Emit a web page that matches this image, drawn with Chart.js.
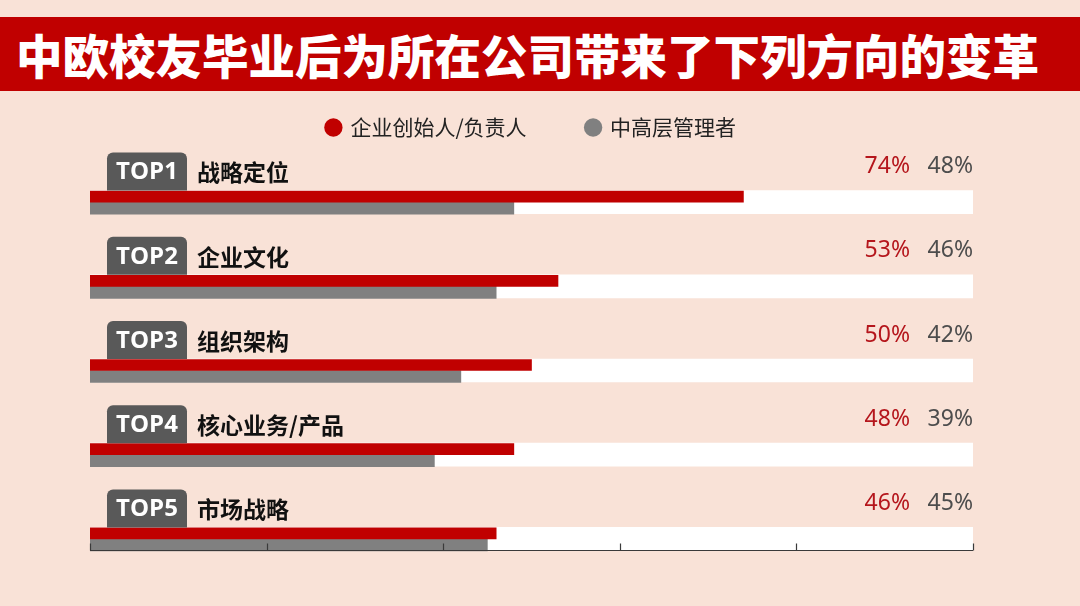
<!DOCTYPE html>
<html lang="zh">

<head>
    <meta charset="UTF-8">
    <meta name="viewport" content="width=device-width, initial-scale=1.0">
    <title>中欧校友毕业后为所在公司带来了下列方向的变革</title>
    <!-- Chart.js -->
    <script src="https://cdn.jsdelivr.net/npm/chart.js"></script>
    <style>
        html, body { margin: 0; padding: 0; }
        body {
            width: 1080px; height: 606px; position: relative; overflow: hidden;
            background: #f9e2d7;
            font-family: "Noto Sans CJK SC", sans-serif;
        }
        .title-bar {
            position: absolute; left: 0; top: 17px; width: 1080px; height: 74px;
            background: #c00000; z-index: 2;
        }
        .title-bar h1 {
            position: absolute; left: 16px; top: 0; margin: 0;
            line-height: 74px; font-size: 46.5px; font-weight: 900;
            color: #fff; white-space: nowrap;
        }
        .chart-box { position: absolute; left: 0; top: 0; width: 1080px; height: 606px; z-index: 1; }
    </style>
</head>

<body>
    <div class="title-bar"><h1>中欧校友毕业后为所在公司带来了下列方向的变革</h1></div>
    <div class="chart-box"><canvas id="changeChart"></canvas></div>

    <script>
        // data
        var ranks = ['TOP1', 'TOP2', 'TOP3', 'TOP4', 'TOP5'];
        var directions = ['战略定位', '企业文化', '组织架构', '核心业务/产品', '市场战略'];
        var founders = [74, 53, 50, 48, 46];   // 企业创始人/负责人
        var managers = [48, 46, 42, 39, 45];   // 中高层管理者
        var fullTrack = [100, 100, 100, 100, 100];
        var xTicks = [0, 20, 40, 60, 80, 100];

        var RED = '#c00000';
        var GRAY = '#808080';

        // TOP tags, names and percentages above each bar pair
        var rowLabels = {
            id: 'rowLabels',
            afterDatasetsDraw: function (chart) {
                var ctx = chart.ctx;
                var x = chart.scales.x;
                var x0 = x.getPixelForValue(0);
                var xEnd = x.getPixelForValue(100);
                var tracks = chart.getDatasetMeta(2).data;
                ctx.save();
                tracks.forEach(function (bar, i) {
                    var top = bar.y - bar.height / 2;

                    ctx.fillStyle = '#595959';
                    ctx.beginPath();
                    ctx.roundRect(x0 + 17, top - 38, 80, 38, [6, 6, 0, 0]);
                    ctx.fill();

                    ctx.textBaseline = 'middle';
                    ctx.textAlign = 'center';
                    ctx.fillStyle = '#ffffff';
                    ctx.font = 'bold 24px "Open Sans", sans-serif';
                    ctx.fillText(ranks[i], x0 + 57, top - 18);

                    ctx.textAlign = 'left';
                    ctx.fillStyle = '#111111';
                    ctx.font = 'bold 23px "Noto Sans CJK SC", sans-serif';
                    ctx.fillText(directions[i], x0 + 107, top - 18);

                    ctx.textAlign = 'right';
                    ctx.font = '23px "Noto Sans", sans-serif';
                    ctx.fillStyle = '#b5161c';
                    ctx.fillText(founders[i] + '%', xEnd - 63, top - 24);
                    ctx.fillStyle = '#4d4d4d';
                    ctx.fillText(managers[i] + '%', xEnd, top - 24);
                });
                ctx.restore();
            }
        };

        // bottom axis line with small ticks pointing up
        var axisTicks = {
            id: 'axisTicks',
            afterDatasetsDraw: function (chart) {
                var ctx = chart.ctx;
                var x = chart.scales.x;
                var tracks = chart.getDatasetMeta(2).data;
                var last = tracks[tracks.length - 1];
                var yLine = Math.round(last.y + last.height / 2) + 0.5;
                ctx.save();
                ctx.strokeStyle = '#3a3a3a';
                ctx.lineWidth = 1.2;
                ctx.beginPath();
                ctx.moveTo(x.getPixelForValue(0), yLine);
                ctx.lineTo(x.getPixelForValue(100), yLine);
                xTicks.forEach(function (t) {
                    var px = Math.round(x.getPixelForValue(t)) + 0.5;
                    ctx.moveTo(px, yLine);
                    ctx.lineTo(px, yLine - 7);
                });
                ctx.stroke();
                ctx.restore();
            }
        };

        var ctx = document.getElementById('changeChart').getContext('2d');
        var changeChart = new Chart(ctx, {
            type: 'bar',
            data: {
                labels: directions,
                datasets: [{
                    label: '企业创始人/负责人',
                    data: founders,
                    backgroundColor: RED,
                    barThickness: 11,
                    borderWidth: 0
                }, {
                    label: '中高层管理者',
                    data: managers,
                    backgroundColor: GRAY,
                    barThickness: 12,
                    borderWidth: 0
                }, {
                    label: 'track',
                    data: fullTrack,
                    backgroundColor: '#ffffff',
                    grouped: false,
                    barThickness: 23,
                    borderWidth: 0
                }]
            },
            options: {
                indexAxis: 'y',
                responsive: true,
                maintainAspectRatio: false,
                animation: false,
                layout: { padding: { left: 90, right: 107, top: 57, bottom: 25 } },
                plugins: {
                    tooltip: { enabled: false },
                    legend: {
                        position: 'top',
                        labels: {
                            usePointStyle: true,
                            pointStyle: 'circle',
                            boxWidth: 13,
                            boxHeight: 13,
                            padding: 60,
                            color: '#222222',
                            font: { family: '"Noto Sans CJK SC", sans-serif', size: 21 },
                            filter: function (item) { return item.datasetIndex < 2; }
                        }
                    }
                },
                scales: {
                    x: {
                        position: 'top',
                        min: 0,
                        max: 100,
                        ticks: { display: false, stepSize: 20 },
                        grid: { display: false },
                        border: { display: false },
                        afterFit: function (scale) { scale.height = 12; }
                    },
                    y: { display: false }
                }
            },
            plugins: [rowLabels, axisTicks]
        });
    </script>
</body>

</html>
